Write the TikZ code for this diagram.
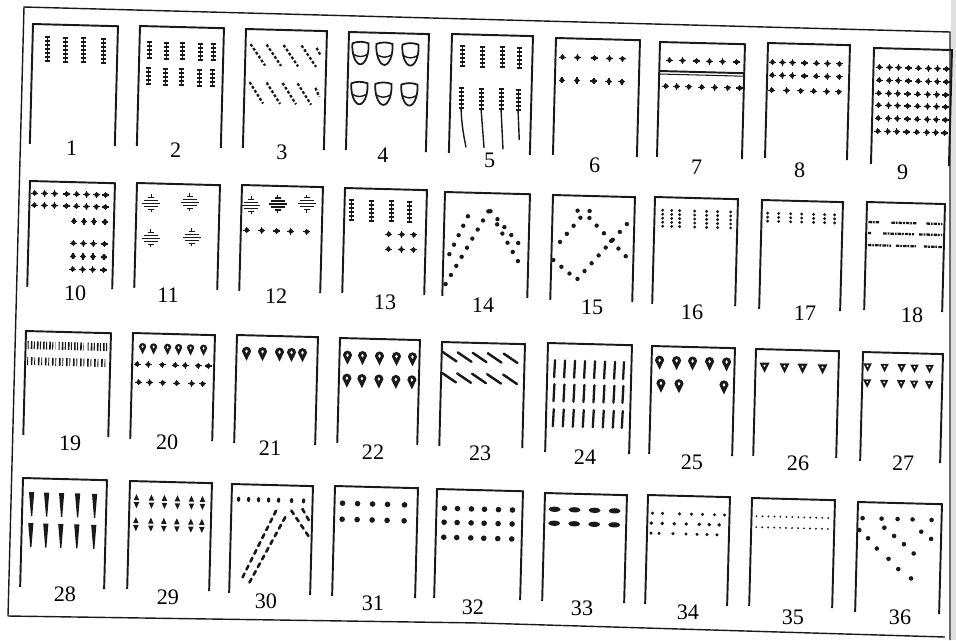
\documentclass[tikz,border=0pt]{standalone}
\usepackage{fontspec}
\setmainfont{Liberation Serif}
\definecolor{ink}{RGB}{25,25,25}
\tikzset{
  frame/.style={ink, line width=0.8pt},
  box/.style={ink, line width=1.1pt},
  num/.style={inner sep=0pt, font=\fontsize{12.6}{14}\selectfont},
  bar/.style={ink, line width=1.1pt},
  hatch/.style={ink, line width=1.3pt, dash pattern=on 1.6pt off 1.1pt},
  tail/.style={ink, line width=0.8pt},
  dotline/.style={ink, line width=2.5pt, line cap=round, dash pattern=on 0pt off 6pt},
  dashline/.style={ink, line width=1.5pt, line cap=round, dash pattern=on 2.4pt off 2.6pt},
  scrawl/.style={ink, line width=1.3pt, dash pattern=on 2pt off 0.5pt on 1pt off 0.6pt},
  grass/.style={ink, line width=4.5pt, dash pattern=on 0.6pt off 1.2pt on 0.9pt off 0.8pt},
  slash/.style={ink, line width=1.4pt, line cap=round},
  vstroke/.style={ink, line width=1.3pt, line cap=round},
  fine/.style={ink, line width=1.2pt, line cap=round, dash pattern=on 0pt off 3.4pt},
  ladder/.pic={
    \draw[ink, line width=0.5pt] (0,0) -- (0,{4*(#1-1)});
    \foreach \k in {1,...,#1} \draw[bar] (-2.5,{4*(\k-1)}) -- (2.5,{4*(\k-1)});
  },
  beads/.pic={
    \foreach \k in {1,...,#1} \fill[ink] (0,{4*(\k-1)}) circle (1.6);
  },
  pip/.pic={
    \fill[ink] (0,0) circle (2.3);
    \draw[ink, line width=0.7pt] (-3.4,0) -- (3.4,0) (0,-3.2) -- (0,3.2);
  },
  oval/.pic={
    \foreach \dy/\hl in {-6/3,-3/7,0/9,3/7,6/3} \draw[ink, line width=0.8pt] (-\hl,\dy) -- (\hl,\dy);
    \draw[ink, line width=0.8pt] (0,-9) -- (0,-6) (0,6) -- (0,9);
  },
  pouch/.pic={
    \draw[ink, line width=1pt] (-8,-10) .. controls (-9,0) and (-5,11) .. (0,11)
      .. controls (5,11) and (9,0) .. (8,-10) .. controls (3,-12) and (-3,-12) .. (-8,-10) -- cycle;
    \draw[ink, line width=0.8pt] (-7,1) .. controls (-2,4) and (2,4) .. (7,1);
  },
  drop/.pic={
    \fill[ink] (0,7.5) -- (-4.6,-2) arc[start angle=180, end angle=360, radius=4.6] -- cycle;
    \fill[white] (0,-2) ellipse (1.3 and 1.9);
  },
  tri/.pic={
    \fill[ink] (-5,-4.5) -- (5,-4.5) -- (0,5.5) -- cycle;
    \fill[white] (0,-1.5) circle (1.2);
  },
  wedge/.pic={
    \fill[ink] (-2.6,0) -- (2.6,0) -- (0.6,24) -- (-0.6,24) -- cycle;
  },
  spindle/.pic={
    \fill[ink] (0,-7) -- (2.8,-1) -- (-2.8,-1) -- cycle;
    \fill[ink] (-2.8,1) -- (2.8,1) -- (0,7) -- cycle;
  },
}
% one open-bottomed panel with its number
\newcommand{\cell}[5]{%
  \draw[box] (0,#3) |- (#2,0) -- (#2,#3);
  \node[num] (n#1) at (#4,#5) {#1};}

\begin{document}
\begin{tikzpicture}[x=0.02cm, y=-0.02cm]
  \useasboundingbox (0,0) rectangle (956,640);
  \fill[black!12] (951,0) rectangle (956,640);

  % Outer frame
  \draw[frame] (8,616) -- (24,7) -- (950,32) -- (950,640);
  \draw[frame] (8,616) -- (480,623) -- (945,637);

  % Row 1
  \begin{scope}[shift={(33,24)}, rotate=-1.5]
    \cell{1}{85}{120}{42}{123}
    \foreach \x in {15,33,51,71} \pic at (\x,13) {ladder=7};
  \end{scope}
  \begin{scope}[shift={(140,26)}, rotate=-1.5]
    \cell{2}{84}{120}{39}{123}
    \foreach \x in {10,27,43,61,74} {\pic at (\x,16) {ladder=5}; \pic at (\x,42) {ladder=5};}
  \end{scope}
  \begin{scope}[shift={(246,29)}, rotate=-1.5]
    \cell{3}{81}{119}{39}{122}
    \foreach \x in {5,21,38,56} \draw[hatch] (\x,15) -- ++(15,21);
    \foreach \x in {5,22,38,53} \draw[hatch] (\x,53) -- ++(14,21);
    \draw[hatch] (71,17) -- ++(4,7);
    \draw[hatch] (71,57) -- ++(4,9);
  \end{scope}
  \begin{scope}[shift={(349,32)}, rotate=-1.5]
    \cell{4}{80}{118}{37}{122}
    \foreach \x in {12,36,62} {\pic at (\x,21) {pouch}; \pic at (\x,61) {pouch};}
  \end{scope}
  \begin{scope}[shift={(452,34)}, rotate=-1.5]
    \cell{5}{81}{119}{41}{125}
    \foreach \x in {11,31,51,68} {\pic at (\x,12) {ladder=6}; \pic at (\x,54) {ladder=6};}
    \draw[tail] (11,74) .. controls (12,92) and (15,104) .. (17,113);
    \draw[tail] (31,74) -- (35,113);
    \draw[tail] (51,74) -- (54,114);
    \draw[tail] (68,74) -- (70,104);
  \end{scope}
  \begin{scope}[shift={(556,38)}, rotate=-1.5]
    \cell{6}{84}{117}{42}{126}
    \foreach \x in {7,22,39,54,67} {\pic at (\x,19) {pip}; \pic at (\x,42) {pip};}
  \end{scope}
  \begin{scope}[shift={(660,42)}, rotate=-1.5]
    \cell{7}{85}{115}{40}{124}
    \draw[box] (0,29) -- (85,29);
    \draw[ink, line width=0.6pt] (0,32) -- (85,32);
    \foreach \x in {10,23,37,50,63,77} \pic at (\x,18) {pip};
    \foreach \x in {7,18,30,43,56,69,81} \pic at (\x,44) {pip};
  \end{scope}
  \begin{scope}[shift={(768,43)}, rotate=-1.5]
    \cell{8}{82}{115}{35}{126}
    \foreach \y in {19,32} \foreach \x in {5,15,25,37,49,60,72} \pic at (\x,\y) {pip};
    \foreach \x in {5,20,34,47,60,72} \pic at (\x,47) {pip};
  \end{scope}
  \begin{scope}[shift={(874,48)}, rotate=-1.5]
    \cell{9}{78}{116}{32}{123}
    \foreach \y in {19,32,45,57,70,83} \foreach \x in {6,16,25,35,45,55,64,73} \pic at (\x,\y) {pip};
  \end{scope}

  % Row 2
  \begin{scope}[shift={(30,181)}, rotate=-1.5]
    \cell{10}{85}{106}{48}{111}
    \foreach \y in {12,24} \foreach \x in {5,15,25,37,47,57,67,76} \pic at (\x,\y) {pip};
    \foreach \y in {39,61,74,87} \foreach \x in {45,55,65,76} \pic at (\x,\y) {pip};
  \end{scope}
  \begin{scope}[shift={(137,183)}, rotate=-1.5]
    \cell{11}{83}{105}{34}{111}
    \foreach \x/\y in {15/20,53/18,15/55,56/53} \pic at (\x,\y) {oval};
  \end{scope}
  \begin{scope}[shift={(242,185)}, rotate=-1.5]
    \cell{12}{81}{106}{37}{110}
    \foreach \x/\y in {10/20,36/18,65/17} \pic at (\x,\y) {oval};
    \foreach \x in {6,21,36,50,66} \pic at (\x,45) {pip};
  \end{scope}
  \begin{scope}[shift={(345,188)}, rotate=-1.5]
    \cell{13}{82}{105}{43}{113}
    \foreach \x in {7,27,47,65} \pic at (\x,12) {ladder=6};
    \foreach \y in {45,60} \foreach \x in {45,58,70} \pic at (\x,\y) {pip};
  \end{scope}
  \begin{scope}[shift={(445,192)}, rotate=-1.5]
    \cell{14}{85}{104}{41}{112}
    \draw[dotline] (3,92) -- (44,18);
    \draw[dotline] (6,62) -- (27,16);
    \draw[dotline] (46,18) -- (80,55);
    \draw[dotline] (53,31) -- (80,76);
  \end{scope}
  \begin{scope}[shift={(553,195)}, rotate=-1.5]
    \cell{15}{82}{105}{42}{111}
    \draw[dotline] (28,22) -- (4,52);
    \draw[dotline] (2,65) -- (26,84) -- (79,22);
    \draw[dotline] (37,22) -- (78,63);
    \fill[ink] (25,15) circle (2.2) (37,15) circle (2.2);
  \end{scope}
  \begin{scope}[shift={(655,197)}, rotate=-1.5]
    \cell{16}{83}{107}{40}{114}
    \foreach \x in {8,17,25,40,52,63,76} \pic at (\x,13) {beads=5};
  \end{scope}
  \begin{scope}[shift={(762,200)}, rotate=-1.5]
    \cell{17}{81}{109}{46}{112}
    \foreach \x in {6,17,29,40,52,63,73} \pic at (\x,13) {beads=3};
  \end{scope}
  \begin{scope}[shift={(867,202)}, rotate=-1.5]
    \cell{18}{78}{108}{48}{112}
    \draw[scrawl] (2,20) -- (13,20) (25,20) -- (50,20) (60,20) -- (76,20);
    \draw[scrawl] (2,31) -- (5,31) (17,31) -- (48,31) (53,31) -- (76,31);
    \draw[scrawl] (2,43) -- (25,43) (30,43) -- (50,43) (58,43) -- (76,43);
  \end{scope}

  % Row 3
  \begin{scope}[shift={(26,331)}, rotate=-1.5]
    \cell{19}{85}{104}{47}{111}
    \draw[grass] (2,14) -- (30,14) (33,14) -- (58,14) (62,14) -- (82,14);
    \draw[grass, dash pattern=on 0.5pt off 1.6pt on 0.9pt off 1pt] (2,30) -- (82,30);
  \end{scope}
  \begin{scope}[shift={(133,333)}, rotate=-1.5]
    \cell{20}{82}{106}{37}{108}
    \foreach \x in {10,21,35,46,58,71} \pic[scale=0.8] at (\x,15) {drop};
    \foreach \x in {5,16,30,43,53,66,76} \pic at (\x,31) {pip};
    \foreach \x in {7,18,31,45,60,71} \pic at (\x,49) {pip};
  \end{scope}
  \begin{scope}[shift={(237,335)}, rotate=-1.5]
    \cell{21}{81}{108}{36}{112}
    \foreach \x in {10,26,43,55,66} \pic at (\x,18) {drop};
  \end{scope}
  \begin{scope}[shift={(340,338)}, rotate=-1.5]
    \cell{22}{80}{105}{36}{113}
    \foreach \y in {19,42} \foreach \x in {8,23,40,57,73} \pic at (\x,\y) {drop};
  \end{scope}
  \begin{scope}[shift={(442,342)}, rotate=-1.5]
    \cell{23}{83}{104}{41}{110}
    \foreach \x in {1,16,31,46,62} {\draw[slash] (\x,10) -- ++(14,9); \draw[slash] (\x,31) -- ++(14,9);}
  \end{scope}
  \begin{scope}[shift={(548,343)}, rotate=-1.5]
    \cell{24}{84}{109}{40}{113}
    \foreach \y in {17,41,66} \foreach \x in {7,17,27,37,47,57,67,76} \draw[vstroke] (\x+0.5,\y) -- (\x,\y+17);
  \end{scope}
  \begin{scope}[shift={(652,346)}, rotate=-1.5]
    \cell{25}{83}{108}{43}{115}
    \foreach \x in {8,25,41,58,75} \pic at (\x,16) {drop};
    \foreach \x in {10,28,73} \pic at (\x,39) {drop};
  \end{scope}
  \begin{scope}[shift={(756,349)}, rotate=-1.5]
    \cell{26}{83}{107}{45}{113}
    \foreach \x in {9,29,47,67} \pic at (\x,18) {tri};
  \end{scope}
  \begin{scope}[shift={(863,352)}, rotate=-1.5]
    \cell{27}{80}{109}{43}{110}
    \foreach \y in {15,31} \foreach \x in {5,22,39,52,67} \pic[scale=0.85] at (\x,\y) {tri};
  \end{scope}

  % Row 4
  \begin{scope}[shift={(23,478)}, rotate=-1.5]
    \cell{28}{84}{109}{45}{115}
    \foreach \x in {9,24,39,55,72} {\pic at (\x,14) {wedge}; \pic at (\x,45) {wedge};}
  \end{scope}
  \begin{scope}[shift={(130,481)}, rotate=-1.5]
    \cell{29}{82}{108}{41}{115}
    \foreach \y in {20,43} \foreach \x in {7,22,35,48,62,73} \pic at (\x,\y) {spindle};
  \end{scope}
  \begin{scope}[shift={(232,484)}, rotate=-1.5]
    \cell{30}{81}{109}{37}{116}
    \foreach \x in {7,17,27,37,47,60,72} \fill[ink] (\x,15) ellipse (1.7 and 2.6);
    \draw[dashline] (13,93) -- (45,25);
    \draw[dashline] (20,98) -- (55,30);
    \draw[dashline] (60,25) -- (80,53);
    \draw[dashline] (71,23) -- (80,38);
  \end{scope}
  \begin{scope}[shift={(335,486)}, rotate=-1.5]
    \cell{31}{83}{110}{41}{116}
    \foreach \y in {17,33} \foreach \x in {8,23,38,53,70} \fill[ink] (\x,\y) circle (2.8);
  \end{scope}
  \begin{scope}[shift={(437,489)}, rotate=-1.5]
    \cell{32}{86}{109}{39}{117}
    \foreach \y in {19,33,48} \foreach \x in {8,21,35,48,62,76} \fill[ink] (\x,\y) circle (2.8);
  \end{scope}
  \begin{scope}[shift={(545,493)}, rotate=-1.5]
    \cell{33}{82}{108}{40}{114}
    \foreach \y in {16,30} \foreach \x in {10,30,50,70} \fill[ink] (\x,\y) ellipse (6 and 2.6);
  \end{scope}
  \begin{scope}[shift={(648,495)}, rotate=-1.5]
    \cell{34}{82}{109}{43}{116}
    \foreach \x in {5,15,32,44,55,67,77} \fill[ink] (\x,18) circle (1.7);
    \foreach \x in {4,15,27,39,52,62,72} \fill[ink] (\x,28) circle (1.9);
    \foreach \x in {4,12,26,39,50,60,70} \fill[ink] (\x,38) circle (1.7);
  \end{scope}
  \begin{scope}[shift={(752,498)}, rotate=-1.5]
    \cell{35}{83}{108}{44}{118}
    \draw[fine] (5,18) -- (79,18);
    \draw[fine] (5,29) -- (79,29);
  \end{scope}
  \begin{scope}[shift={(858,502)}, rotate=-1.5]
    \cell{36}{84}{110}{45}{114}
    \foreach \x/\y in {5/16,24/16,40/16,55/16,74/16,2/28,27/25,37/33,47/41,57/50,64/28,74/35,11/36,20/46,32/56,42/66,55/75}
      \fill[ink] (\x,\y) circle (2.3);
  \end{scope}
\end{tikzpicture}
\end{document}
